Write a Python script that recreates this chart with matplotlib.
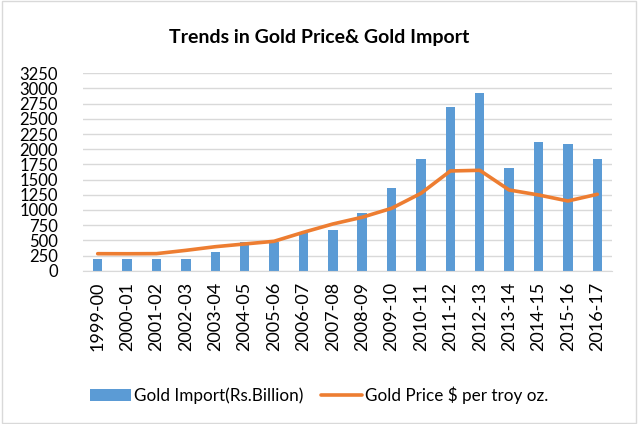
import matplotlib.pyplot as plt
from matplotlib.patches import Rectangle

plt.rcParams['font.family'] = ['Lato', 'DejaVu Sans']

years = ["1999-00", "2000-01", "2001-02", "2002-03", "2003-04", "2004-05", "2005-06",
         "2006-07", "2007-08", "2008-09", "2009-10", "2010-11", "2011-12", "2012-13",
         "2013-14", "2014-15", "2015-16", "2016-17"]
gold_import = [188, 193, 200, 188, 303, 472, 470, 626, 675, 950, 1362, 1845, 2701, 2921,
               1686, 2114, 2081, 1845]
gold_price = [280, 279, 281, 335, 395, 440, 484, 632, 769, 880, 1027, 1274, 1642, 1653,
              1329, 1247, 1148, 1258]
yticks = list(range(0, 3251, 250))

fig = plt.figure(figsize=(6.38, 4.24), dpi=100)
ax = fig.add_axes([83 / 638, 1 - 270.7 / 424, (612 - 83) / 638, (270.7 - 73.3) / 424])

x = range(len(years))
bars = ax.bar(x, gold_import, width=0.32, color='#5B9BD5', label="Gold Import(Rs.Billion)", zorder=2)
line, = ax.plot(x, gold_price, color='#ED7D31', linewidth=2.6, label="Gold Price $ per troy oz.",
                solid_capstyle='round', zorder=3)

ax.set_xlim(-0.5, len(years) - 0.5)
ax.set_ylim(0, 3250)
ax.set_yticks(yticks)
ax.set_yticklabels([str(v) for v in yticks], fontsize=12)
ax.set_xticks(list(x))
ax.set_xticklabels(years, rotation=90, fontsize=13)
ax.tick_params(axis='x', length=0, pad=8)
ax.tick_params(axis='y', length=0, pad=18)
ax.grid(axis='y', color='#D9D9D9', linewidth=1, zorder=0)
for s in ['top', 'right', 'left']:
    ax.spines[s].set_visible(False)
ax.spines['bottom'].set_color('#D9D9D9')

fig.text(0.5, 1 - 38 / 424, "Trends in Gold Price& Gold Import", ha='center', va='center',
         fontsize=14, fontweight='bold')

fig.legend(handles=[bars, line], loc='center', bbox_to_anchor=(0.5, 1 - 395 / 424), ncol=2,
           frameon=False, fontsize=12.3, handlelength=2.4, columnspacing=1.0, handletextpad=0.2)

fig.patches.append(Rectangle((0.003, 0.003), 0.994, 0.994, transform=fig.transFigure,
                             fill=False, edgecolor='#D9D9D9', linewidth=1))

plt.savefig("out.png", dpi=100)
plt.close()
